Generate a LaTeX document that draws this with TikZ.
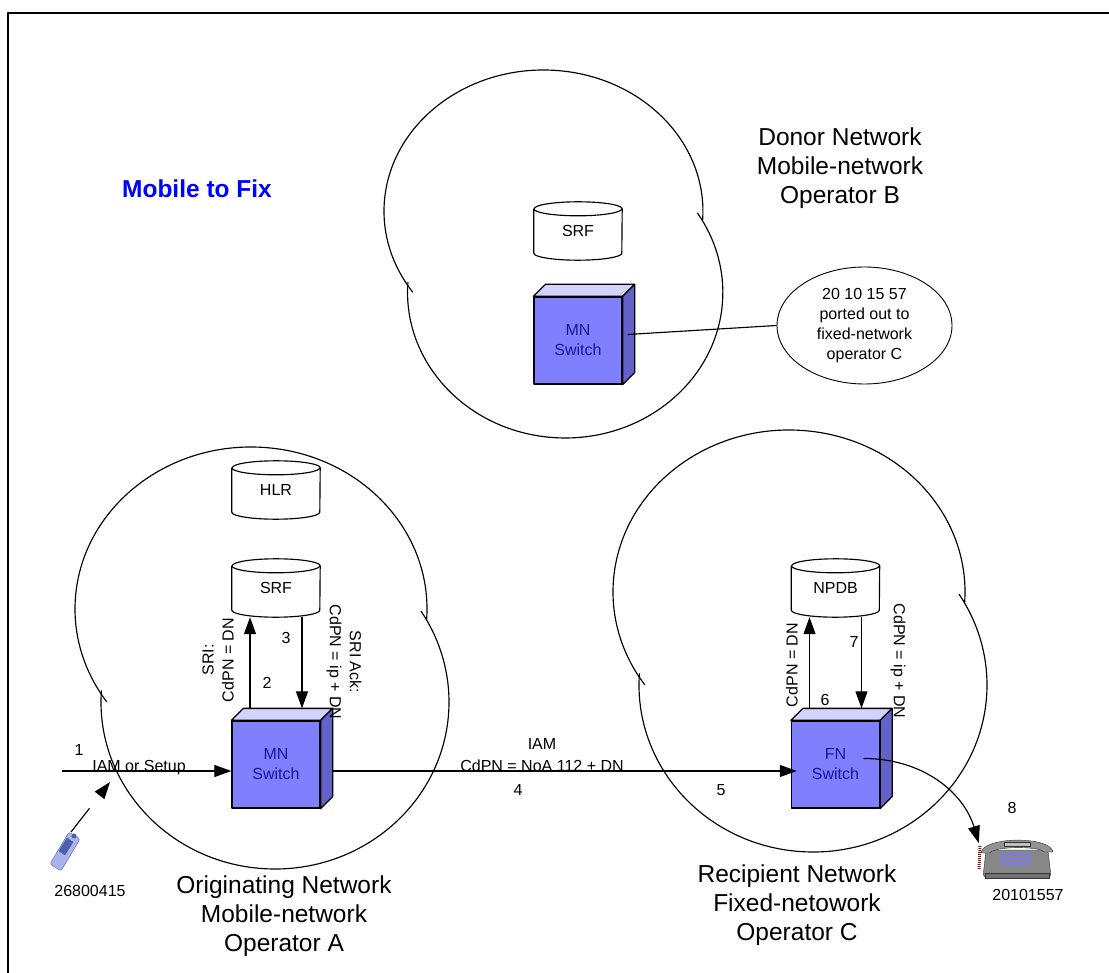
\documentclass[tikz,border=0pt]{standalone}
\usepackage{fontspec}
\setmainfont{Liberation Sans}
\usetikzlibrary{arrows.meta,shapes.geometric}

\definecolor{swfront}{RGB}{128,128,255}
\definecolor{swtop}{RGB}{210,210,255}
\definecolor{swside}{RGB}{98,98,200}
\definecolor{swtext}{RGB}{20,20,170}
\definecolor{phonegray}{RGB}{135,135,135}
\definecolor{cordred}{RGB}{125,30,30}
\definecolor{mobblue}{RGB}{170,180,235}
\definecolor{mobdark}{RGB}{75,95,175}
\definecolor{keyblue}{RGB}{120,120,255}

\tikzset{
  netline/.style={line width=1.15pt},
  msg/.style={netline, -{Triangle[length=17pt,width=12pt]}},
  small/.style={font=\fontsize{16}{20}\selectfont},
  big/.style={font=\fontsize{24.5}{29}\selectfont, align=center},
  switchbox/.style={draw, line width=1.3pt, fill=swfront, minimum width=88pt, minimum height=87pt,
    inner sep=0pt, align=center, text=swtext, small},
  drum/.style={minimum width=88pt, minimum height=58pt, inner sep=0pt, small},
  notebubble/.style={draw, ellipse, line width=0.9pt, minimum width=175pt, minimum height=117pt,
    inner sep=0pt, align=center, small}
}

% top and side faces of a switch
\newcommand{\boxfaces}[1]{%
  \draw[line width=1.3pt, fill=swtop] (#1.north west) -- ++(12pt,12pt) -- ([shift={(12pt,12pt)}]#1.north east) -- (#1.north east) -- cycle;
  \draw[line width=1.3pt, fill=swside] (#1.north east) -- ++(12pt,12pt) -- ([shift={(12pt,12pt)}]#1.south east) -- (#1.south east) -- cycle;}

% database drum around a node
\newcommand{\drumshape}[1]{%
  \draw[netline] ([yshift=-7pt]#1.north west) -- ([yshift=7pt]#1.south west)
    arc[start angle=180, end angle=0, x radius=44, y radius=7]
    -- ([yshift=-7pt]#1.north east)
    arc[start angle=0, end angle=-180, x radius=44, y radius=7];
  \draw[netline] ([yshift=-7pt]#1.north west) arc[start angle=180, end angle=0, x radius=44, y radius=7];}

% network cloud: left, top, xscale, yscale
\newcommand{\netcloud}[4]{%
  \begin{scope}[shift={(#1,#2)}, xscale=#3, yscale=#4]
    \draw[netline] (176,162) ++(4:176 and 162) arc[start angle=4, end angle=-215, x radius=176, y radius=162];
    \draw[netline] (200,255) ++(184:174 and 167) arc[start angle=184, end angle=-33, x radius=174, y radius=167];
  \end{scope}}

\begin{document}
\begin{tikzpicture}[x=1pt, y=-1pt, line join=round]
  \useasboundingbox (0,0) rectangle (1109,973);
  \draw[line width=2pt] (8.3,973) -- (8.3,12.7) -- (1109,12.7);

  % clouds
  \netcloud{384}{70}{0.906}{0.872}
  \netcloud{75}{447}{1}{1}
  \netcloud{613}{430}{1}{1}

  \node[font=\bfseries\fontsize{24.5}{29}\selectfont, text=blue] at (197,189) {Mobile to Fix};

  % donor network
  \node[big] at (840,168) {Donor Network\\Mobile-network\\Operator B};
  \node[drum] (srfB) at (578,231) {SRF};
  \drumshape{srfB}
  \node[switchbox] (mnB) at (578,340.5) {MN\\Switch};
  \boxfaces{mnB}
  \node[notebubble] (portB) at (864.5,325.5) {20 10 15 57\\ported out to\\fixed-network\\operator C};
  \draw[netline] ([xshift=5pt,yshift=6pt]mnB.east) -- (portB.west);

  % originating network
  \node[big] at (284,916) {Originating Network\\Mobile-network\\Operator A};
  \node[drum] (hlrA) at (276,490) {HLR};
  \drumshape{hlrA}
  \node[drum] (srfA) at (276,588) {SRF};
  \drumshape{srfA}
  \node[switchbox] (mnA) at (276,764.5) {MN\\Switch};
  \boxfaces{mnA}
  \draw[msg] ([xshift=-26pt,yshift=12pt]mnA.north) -- ([xshift=-26pt]srfA.south);
  \draw[msg] ([xshift=26pt]srfA.south) -- ([xshift=26pt,yshift=12pt]mnA.north);
  \node[small, rotate=90, align=center] at (218,660) {SRI:\\CdPN = DN};
  \node[small, rotate=-90, align=center] at (344,662) {SRI Ack:\\CdPN = ip + DN};
  \node[small] at (267,683) {2};
  \node[small] at (286,638) {3};

  % mobile handset
  \draw[draw=mobdark, fill=mobblue, rounded corners=2pt] (80,839) -- (69,832) -- (50,864) -- (61,871) -- cycle;
  \draw[draw=mobdark, fill=mobdark] (73,842) -- (67,838) -- (59,851) -- (65,855) -- cycle;
  \fill[mobdark] (74,836) circle (2.5);
  \coordinate (mobA) at (71,832);
  \coordinate (joinA) at (110,782);
  \draw[msg, dash pattern=on 30pt off 40pt] (mobA) -- (joinA);
  \node[small] at (90,891) {26800415};

  \coordinate (inA) at (62,771);
  \draw[msg] (inA) -- ([yshift=-6.5pt]mnA.west);
  \node[small] at (79,750) {1};
  \node[small, anchor=base] at (139,771) {IAM or Setup};

  % recipient network
  \node[big] at (797,905) {Recipient Network\\Fixed-netowork\\Operator C};
  \node[drum] (npdbC) at (835.5,588) {NPDB};
  \drumshape{npdbC}
  \node[switchbox] (fnC) at (835.5,764.5) {FN\\Switch};
  \boxfaces{fnC}
  \draw[msg] ([xshift=-26pt,yshift=12pt]fnC.north) -- ([xshift=-26pt]npdbC.south);
  \draw[msg] ([xshift=26pt]npdbC.south) -- ([xshift=26pt,yshift=12pt]fnC.north);
  \node[small, rotate=90] at (792,665) {CdPN = DN};
  \node[small, rotate=-90] at (898,661) {CdPN = ip + DN};
  \node[small] at (825,700) {6};
  \node[small] at (854,642) {7};

  % call across
  \draw[msg] ([xshift=12pt,yshift=-6.5pt]mnA.east) -- ([xshift=6pt,yshift=-6.5pt]fnC.west);
  \node[small] at (542,744) {IAM};
  \node[small, anchor=base] at (542,771) {CdPN = NoA 112 + DN};
  \node[small] at (518,790) {4};
  \node[small] at (721,790) {5};

  % desk phone
  \node[minimum width=70pt, minimum height=40pt] (deskC) at (1017,858) {};
  \draw[draw=black!80, fill=phonegray, rounded corners=3pt] (986,850) -- (1048,850) -- (1051,877) -- (983,877) -- cycle;
  \draw[draw=black!80, fill=black!55] (985,873) rectangle (1049,878);
  \draw[draw=black!80, fill=phonegray!90] (981,853) .. controls (983,836) and (1051,836) .. (1053,852)
    -- (1044,852) .. controls (1040,846) and (994,846) .. (990,853) -- cycle;
  \draw[draw=black!80, fill=black!25] (1004,842) rectangle (1030,846);
  \foreach \i in {0,...,3}
    \foreach \j in {0,1,2}
      \fill[keyblue] (1001+8*\i,853+4.5*\j) rectangle ++(6,2.5);
  \draw[cordred, line width=3pt, dash pattern=on 1pt off 1pt] (980,846) -- (979,869);
  \draw[msg] ([xshift=28pt,yshift=6pt]fnC.center) .. controls +(60pt,0pt) and +(-15pt,50pt) .. ([xshift=-3pt,yshift=15pt]deskC.west);
  \node[small] at (1012,808) {8};
  \node[small] at (1028,895) {20101557};
\end{tikzpicture}
\end{document}
